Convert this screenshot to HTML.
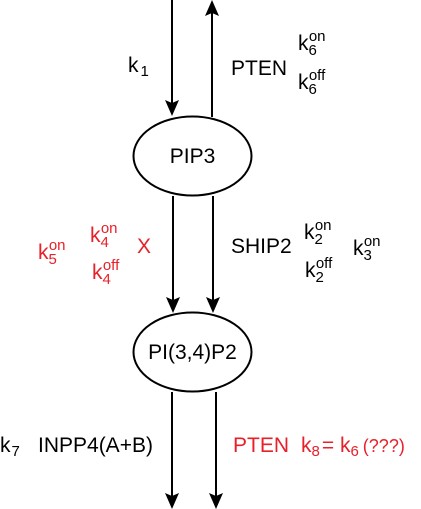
<!DOCTYPE html>
<html><head><meta charset="utf-8"><style>
html,body{margin:0;padding:0;background:#fff;}
svg{display:block;font-family:"Liberation Sans","DejaVu Sans",sans-serif;}
.t{font-size:21px;}
.s{font-size:15px;}
</style></head><body>
<svg width="421" height="509" viewBox="0 0 421 509">
<g stroke="#000" stroke-width="2" fill="none">
<line x1="172" y1="0" x2="172" y2="110"/>
<path d="M165,100 L172,103 L179,100 L172,116 Z" fill="#000" stroke="none"/>
<line x1="212" y1="117" x2="212" y2="8"/>
<path d="M205,16 L212,13 L219,16 L212,0 Z" fill="#000" stroke="none"/>
<ellipse cx="192.5" cy="156" rx="59" ry="39.5"/>
<line x1="173" y1="196" x2="173" y2="305"/>
<path d="M166,297 L173,300 L180,297 L173,313 Z" fill="#000" stroke="none"/>
<line x1="213" y1="196" x2="213" y2="305"/>
<path d="M206,297 L213,300 L220,297 L213,313 Z" fill="#000" stroke="none"/>
<ellipse cx="192.5" cy="352" rx="59" ry="39.5"/>
<line x1="172" y1="392" x2="172" y2="500"/>
<path d="M165,493 L172,496 L179,493 L172,509 Z" fill="#000" stroke="none"/>
<line x1="216" y1="392" x2="216" y2="500"/>
<path d="M209,493 L216,496 L223,493 L216,509 Z" fill="#000" stroke="none"/>
</g>
<g fill="#000">
<text class="t" x="192.5" y="163" text-anchor="middle">PIP3</text>
<text class="t" x="192.5" y="359" text-anchor="middle">PI(3,4)P2</text>
<text x="128" y="72"><tspan class="t">k</tspan><tspan class="s" dx="2" dy="4">1</tspan></text>
<text class="t" x="231" y="75">PTEN</text>
<text x="298" y="50"><tspan class="t">k</tspan><tspan class="s" dy="5">6</tspan><tspan class="s" dx="-8" dy="-14">on</tspan></text>
<text x="298" y="89"><tspan class="t">k</tspan><tspan class="s" dy="5">6</tspan><tspan class="s" dx="-8" dy="-14">off</tspan></text>
<text class="t" x="231" y="253">SHIP2</text>
<text x="304" y="239"><tspan class="t">k</tspan><tspan class="s" dy="5">2</tspan><tspan class="s" dx="-8" dy="-14">on</tspan></text>
<text x="305" y="277"><tspan class="t">k</tspan><tspan class="s" dy="5">2</tspan><tspan class="s" dx="-8" dy="-14">off</tspan></text>
<text x="353" y="255"><tspan class="t">k</tspan><tspan class="s" dy="5">3</tspan><tspan class="s" dx="-8" dy="-14">on</tspan></text>
<text x="0" y="452"><tspan class="t">k</tspan><tspan class="s" dx="1" dy="4">7</tspan></text>
<text class="t" x="38" y="452">INPP4(A+B)</text>
</g>
<g fill="#e8202a">
<text x="38" y="259"><tspan class="t">k</tspan><tspan class="s" dy="5">5</tspan><tspan class="s" dx="-8" dy="-14">on</tspan></text>
<text x="90" y="242"><tspan class="t">k</tspan><tspan class="s" dy="5">4</tspan><tspan class="s" dx="-8" dy="-14">on</tspan></text>
<text x="92" y="279"><tspan class="t">k</tspan><tspan class="s" dy="5">4</tspan><tspan class="s" dx="-8" dy="-14">off</tspan></text>
<text class="t" x="137" y="253">X</text>
<text class="t" x="233" y="452">PTEN</text>
<text x="301" y="452"><tspan class="t">k</tspan><tspan class="s" dy="4">8</tspan><tspan class="t" dx="2" dy="-4">= k</tspan><tspan class="s" dy="4">6</tspan><tspan class="t" dx="4" dy="-4" style="font-size:18px">(???)</tspan></text>
</g>
</svg>
</body></html>
